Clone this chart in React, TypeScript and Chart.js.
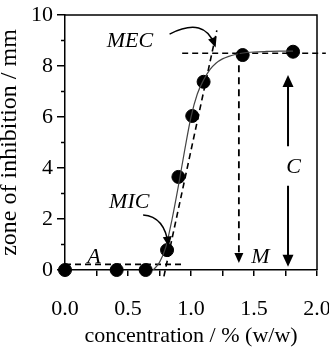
import React, { useEffect, useRef } from 'react';
import { Chart, registerables } from 'chart.js';

Chart.register(...registerables);

// Measured inhibition zones
const concentration = [0.0, 0.41, 0.64, 0.81, 0.9, 1.01, 1.1, 1.41, 1.81];
const zone = [0.0, 0.0, 0.0, 0.78, 3.65, 6.04, 7.38, 8.43, 8.56];

// Fitted dose-response curve
const fitX = [0.7, 0.75, 0.8, 0.85, 0.9, 0.95, 1.0, 1.05, 1.1, 1.15, 1.2, 1.25, 1.3, 1.35, 1.4, 1.5, 1.6, 1.7, 1.81];
const fitY = [0.0, 0.3, 0.9, 2.0, 3.3, 4.7, 6.0, 6.9, 7.45, 7.86, 8.12, 8.28, 8.38, 8.45, 8.5, 8.55, 8.57, 8.58, 8.58];

// Construction lines
const tangentX = [0.785, 1.205];
const tangentY = [-0.25, 9.4];
const plateauX = [0.93, 2.07];
const plateauY = [8.5, 8.5];
const baselineX = [0.0, 0.93];
const baselineY = [0.22, 0.22];

// Arrows: M (dashed, down) and C (double headed)
const arrowMX = 1.38;
const arrowMY = [8.5, 0.27];
const arrowCX = 1.77;
const arrowCY = [7.65, 0.13];
const arrowCGap = [3.3, 4.85];

// Curved pointers: start, control, end
const mecCurve = [[0.83, 9.25], [1.11, 9.95], [1.19, 8.8]];
const micCurve = [[0.62, 2.16], [0.79, 2.1], [0.82, 1.0]];

// Italic labels
const labelText = ['MEC', 'MIC', 'A', 'M', 'C'];
const labelX = [0.516, 0.51, 0.23, 1.55, 1.815];
const labelY = [8.99, 2.64, 0.52, 0.5, 4.04];

// Axes
const xLabelled = [0, 0.5, 1, 1.5, 2];
const minorYTicks = [1, 3, 5, 7, 9];
const xTitle = 'concentration / % (w/w)';
const yTitle = 'zone of inhibition / mm';

const SERIF = "'Liberation Serif', 'Times New Roman', serif";

const toPts = (xs: number[], ys: number[]) => xs.map((x, i) => ({ x, y: ys[i] }));

function arrowHead(ctx: CanvasRenderingContext2D, tx: number, ty: number, ang: number, len: number, half: number) {
  ctx.beginPath();
  ctx.moveTo(tx, ty);
  ctx.lineTo(tx - len * Math.cos(ang) + half * Math.sin(ang), ty - len * Math.sin(ang) - half * Math.cos(ang));
  ctx.lineTo(tx - len * Math.cos(ang) - half * Math.sin(ang), ty - len * Math.sin(ang) + half * Math.cos(ang));
  ctx.closePath();
  ctx.fill();
}

const annotate = {
  id: 'annotate',
  afterDatasetsDraw(chart: any) {
    const { ctx, chartArea: a, scales } = chart;
    const px = (v: number) => scales.x.getPixelForValue(v);
    const py = (v: number) => scales.y.getPixelForValue(v);
    ctx.save();
    ctx.strokeStyle = '#000';
    ctx.fillStyle = '#000';

    // frame top and right
    ctx.lineWidth = 1.5;
    ctx.beginPath();
    ctx.moveTo(a.left, a.top);
    ctx.lineTo(a.right, a.top);
    ctx.lineTo(a.right, a.bottom);
    ctx.stroke();

    // minor y ticks
    ctx.beginPath();
    for (const v of minorYTicks) {
      ctx.moveTo(a.left - 4, py(v));
      ctx.lineTo(a.left, py(v));
    }
    ctx.stroke();

    // M arrow (dashed)
    const mx = px(arrowMX);
    const mTop = py(arrowMY[0]);
    const mTip = py(arrowMY[1]);
    ctx.lineWidth = 1.8;
    ctx.setLineDash([7, 5]);
    ctx.beginPath();
    ctx.moveTo(mx, mTop);
    ctx.lineTo(mx, mTip - 8);
    ctx.stroke();
    ctx.setLineDash([]);
    arrowHead(ctx, mx, mTip, Math.PI / 2, 10, 4.5);

    // C arrow (solid, double headed, gap for label)
    const cx = px(arrowCX);
    ctx.lineWidth = 2;
    ctx.beginPath();
    ctx.moveTo(cx, py(arrowCY[0]) + 8);
    ctx.lineTo(cx, py(arrowCGap[1]));
    ctx.moveTo(cx, py(arrowCGap[0]));
    ctx.lineTo(cx, py(arrowCY[1]) - 8);
    ctx.stroke();
    arrowHead(ctx, cx, py(arrowCY[0]), -Math.PI / 2, 12, 5.5);
    arrowHead(ctx, cx, py(arrowCY[1]), Math.PI / 2, 12, 5.5);

    // curved pointers
    ctx.lineWidth = 1.5;
    for (const c of [mecCurve, micCurve]) {
      const [s, k, e] = c.map(([u, v]) => [px(u), py(v)]);
      ctx.beginPath();
      ctx.moveTo(s[0], s[1]);
      ctx.quadraticCurveTo(k[0], k[1], e[0], e[1]);
      ctx.stroke();
      const ang = Math.atan2(e[1] - k[1], e[0] - k[0]);
      arrowHead(ctx, e[0] + 2 * Math.cos(ang), e[1] + 2 * Math.sin(ang), ang, 10, 4.5);
    }

    // labels
    ctx.font = `italic 22px ${SERIF}`;
    ctx.textAlign = 'center';
    ctx.textBaseline = 'middle';
    labelText.forEach((t, i) => ctx.fillText(t, px(labelX[i]), py(labelY[i])));

    ctx.restore();
  },
};

export default function App() {
  const ref = useRef<HTMLCanvasElement>(null);

  useEffect(() => {
    if (!ref.current) return;
    const dashed = (xs: number[], ys: number[]) => ({
      type: 'line' as const,
      data: toPts(xs, ys),
      borderColor: '#000',
      borderWidth: 1.6,
      borderDash: [6, 4],
      pointRadius: 0,
      fill: false,
      clip: false as any,
    });
    const chart = new Chart(ref.current, {
      type: 'scatter',
      data: {
        datasets: [
          {
            type: 'line',
            data: toPts(fitX, fitY),
            borderColor: '#444',
            borderWidth: 1.2,
            pointRadius: 0,
            cubicInterpolationMode: 'monotone',
            fill: false,
          },
          dashed(tangentX, tangentY),
          dashed(plateauX, plateauY),
          dashed(baselineX, baselineY),
          {
            data: toPts(concentration, zone),
            backgroundColor: '#000',
            borderColor: '#000',
            pointRadius: 6.5,
            clip: false as any,
          },
        ] as any,
      },
      options: {
        animation: false,
        responsive: false,
        events: [],
        layout: { padding: { top: 15, right: 12, bottom: 0, left: 0 } },
        plugins: { legend: { display: false }, tooltip: { enabled: false } },
        scales: {
          x: {
            type: 'linear',
            min: 0,
            max: 2,
            afterFit: (s: any) => {
              s.height = 77;
              s.paddingLeft = 0;
              s.paddingRight = 12;
            },
            ticks: {
              stepSize: 0.25,
              autoSkip: false,
              maxRotation: 0,
              padding: 20,
              color: '#000',
              font: { family: SERIF, size: 22 },
              callback: (v: any) => {
                const n = Number(v);
                return xLabelled.some((t) => Math.abs(t - n) < 1e-6) ? n.toFixed(1) : '';
              },
            },
            grid: { drawOnChartArea: false, drawTicks: true, tickLength: 6, color: '#000', lineWidth: 1.5 },
            border: { display: true, color: '#000', width: 1.5 },
            title: {
              display: true,
              text: xTitle,
              color: '#000',
              padding: 0,
              font: { family: SERIF, size: 22, lineHeight: 1.0 },
            },
          },
          y: {
            type: 'linear',
            min: 0,
            max: 10,
            afterFit: (s: any) => {
              s.width = 65;
              s.paddingTop = 0;
              s.paddingBottom = 0;
            },
            ticks: {
              stepSize: 2,
              padding: 4,
              color: '#000',
              font: { family: SERIF, size: 22 },
              callback: (v: any) => String(v),
            },
            grid: { drawOnChartArea: false, drawTicks: true, tickLength: 8, color: '#000', lineWidth: 1.5 },
            border: { display: true, color: '#000', width: 1.5 },
            title: {
              display: true,
              text: yTitle,
              color: '#000',
              padding: 0,
              font: { family: SERIF, size: 24, lineHeight: 0.8 },
            },
          },
        },
      },
      plugins: [annotate],
    });
    return () => chart.destroy();
  }, []);

  return (
    <div style={{ position: 'absolute', left: 0, top: 0, width: 329, height: 347, background: '#fff' }}>
      <canvas ref={ref} width={329} height={347} style={{ display: 'block' }} />
    </div>
  );
}
